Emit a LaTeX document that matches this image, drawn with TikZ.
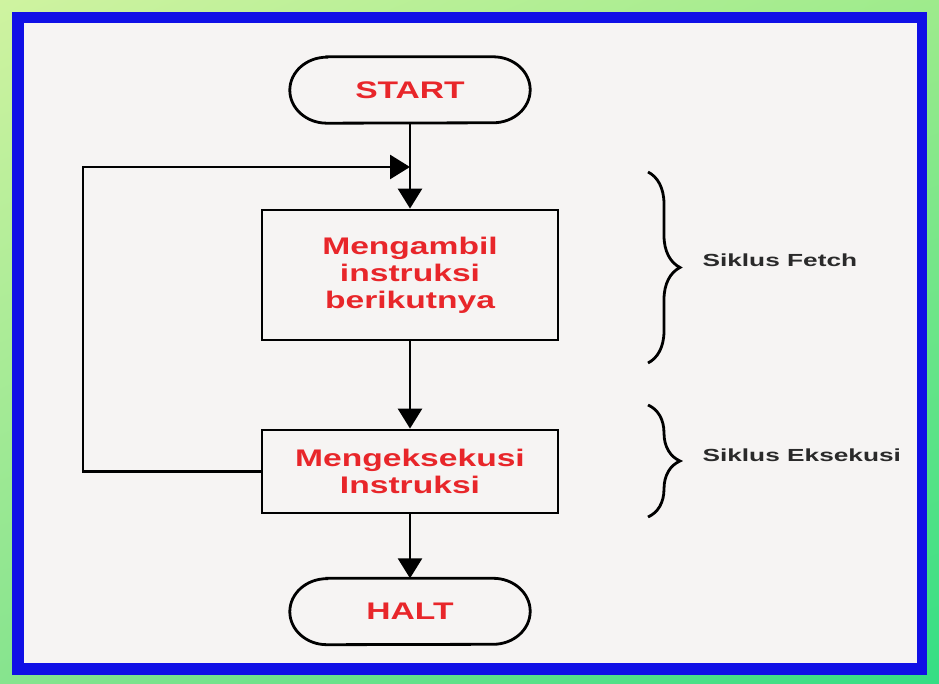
\documentclass[tikz,border=0pt]{standalone}
\usepackage{fontspec}
\usetikzlibrary{arrows.meta,decorations.pathreplacing,shadings}
\newfontfamily\redfont[FakeStretch=1.4,BoldFont={Liberation Sans Bold}]{Liberation Sans}
\newfontfamily\lblfont[FakeStretch=1.5,BoldFont={Liberation Sans Bold}]{Liberation Sans}
\definecolor{flowred}{HTML}{E8262A}
\definecolor{frameblue}{HTML}{1010E6}
\definecolor{paper}{HTML}{F6F4F3}
\definecolor{inkdark}{HTML}{2A2A2A}
\definecolor{gTL}{HTML}{CFF3A0}
\definecolor{gTR}{HTML}{9EEB8C}
\definecolor{gBL}{HTML}{86E48E}
\definecolor{gBR}{HTML}{34DE84}
\begin{document}
\begin{tikzpicture}[x=1pt,y=1pt,
  line/.style={draw=black,line width=2.8pt},
  arr/.style={line,-{Triangle[length=20pt,width=24pt]}},
  box/.style={draw=black,line width=2.8pt,minimum width=296pt,align=center,
    font=\redfont\bfseries\fontsize{24}{27}\selectfont,text=flowred,inner sep=0pt},
  term/.style={minimum width=240pt,minimum height=66pt,inner sep=0pt,
    font=\redfont\bfseries\fontsize{24}{27}\selectfont,text=flowred},
  lbl/.style={anchor=west,font=\lblfont\bfseries\fontsize{17.5}{20}\selectfont,text=inkdark},
  brc/.style={draw=black,line width=2.8pt,decorate,decoration={brace,amplitude=32pt}}
]
\useasboundingbox (0,0) rectangle (939,684);
% frame
\shade[upper left=gTL,upper right=gTR,lower left=gBL,lower right=gBR] (0,0) rectangle (939,684);
\fill[frameblue] (12,9) rectangle (927,672);
\fill[paper] (24,21) rectangle (917,661);

% nodes
\node[term] (start) at (410,594) {START};
\node[box,minimum height=130pt] (fetch) at (410,409) {Mengambil\\instruksi\\berikutnya};
\node[box,minimum height=83pt] (exec) at (410,212.5) {Mengeksekusi\\Instruksi};
\node[term] (halt) at (410,72.5) {HALT};

% terminal outlines
\foreach \t in {start,halt}{
  \draw[line] ([xshift=37pt]\t.north west) -- ([xshift=-37pt]\t.north east)
    arc[start angle=90,end angle=-90,x radius=37pt,y radius=33pt]
    -- ([xshift=37pt]\t.south west)
    arc[start angle=270,end angle=90,x radius=37pt,y radius=33pt] -- cycle;
}

% connectors
\coordinate (join) at (410,517);
\coordinate (loopcorner) at (83,212.5);
\draw[arr] (start) -- (fetch);
\draw[arr] (fetch) -- (exec);
\draw[arr] (exec) -- (halt);
\draw[arr] (exec.west) -- (loopcorner) |- (join);

% braces
\coordinate (fb1) at (648,512);
\coordinate (fb2) at (648,321);
\coordinate (eb1) at (648,279);
\coordinate (eb2) at (648,167);
\draw[brc] (fb1) -- (fb2);
\draw[brc] (eb1) -- (eb2);
\node[lbl] (lf) at (699,424) {Siklus Fetch};
\node[lbl] (le) at (699,229) {Siklus Eksekusi};
\end{tikzpicture}
\end{document}
